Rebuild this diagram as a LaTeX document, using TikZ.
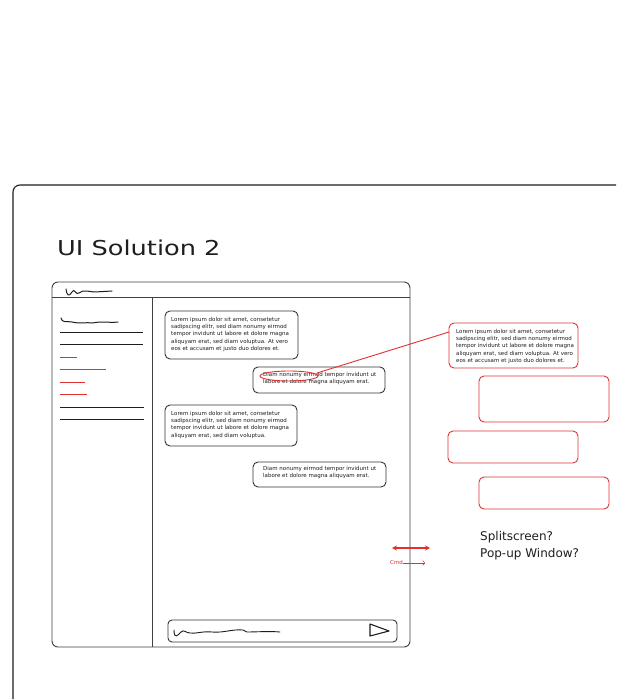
\documentclass[tikz,border=0pt]{standalone}
\usepackage{fontspec}
\setmainfont{DejaVu Sans}
\usetikzlibrary{arrows.meta}
\definecolor{ink}{HTML}{1E1E1E}
\definecolor{redink}{HTML}{E03131}
\tikzset{
  frame/.style={draw=ink, line width=1.1pt, rounded corners=7pt},
  win/.style={draw=ink!85, line width=0.9pt},
  bubble/.style={draw=ink!90, line width=0.9pt, rounded corners=5pt},
  redbox/.style={draw=redink, line width=0.9pt, rounded corners=5pt},
  navline/.style={draw=ink, line width=1pt},
  navred/.style={draw=redink, line width=1pt},
  scrib/.style={draw=ink, line width=1pt, line cap=round, line join=round},
  chat/.style={inner sep=0pt, anchor=north west, align=left, text=ink,
    font=\fontsize{5.5}{7.3}\selectfont},
  note/.style={inner sep=0pt, anchor=base west, text=ink,
    font=\fontsize{12}{17}\selectfont}
}
\begin{document}
\begin{tikzpicture}[x=1pt, y=-1pt]
\useasboundingbox (0,0) rectangle (616,700);
\fill[white] (0,0) rectangle (616,700);

% outer board
\begin{scope}
\clip (0,0) rectangle (616,700);
\draw[frame] (13,699) -- (13,185) -- (630,185);
\end{scope}

% title
\node[inner sep=0pt, anchor=base west, text=ink, font=\fontsize{20.5}{24}\selectfont]
  (title) at (57,255) {\scalebox{1.25}[1]{UI Solution 2}};

% app window
\draw[win, rounded corners=6pt] (52,282) rectangle (410,647);
\draw[win] (52,297) -- (410,297);
\draw[win] (152,297) -- (152,647);

% header logo scribble
\draw[scrib] (66,289) .. controls (67,296) and (69,297) .. (72,292)
  .. controls (74,287) and (76,296) .. (79,293)
  .. controls (83,289) and (90,292) .. (95,292) -- (112,291);

% sidebar
\draw[scrib] (61,318) .. controls (62,323) and (66,321) .. (72,322)
  .. controls (80,324) and (86,322) .. (93,323)
  .. controls (100,321) and (110,323) .. (118,322);
\draw[navline] (60,332) -- (143,332);
\draw[navline] (60,344) -- (143,344);
\draw[navred] (60,357) -- (77,357);
\draw[navred] (60,369) -- (106,369);
\draw[navred] (60,382) -- (85,382);
\draw[navred] (60,394) -- (87,394);
\draw[navline] (60,407) -- (144,407);
\draw[navline] (60,419) -- (144,419);

% chat bubbles
\draw[bubble] (165,311) rectangle (298,359);
\node[chat] (m1) at (171,317) {Lorem ipsum dolor sit amet, consetetur\\sadipscing elitr, sed diam nonumy eirmod\\tempor invidunt ut labore et dolore magna\\aliquyam erat, sed diam voluptua. At vero\\eos et accusam et justo duo dolores et.};

\draw[bubble] (253,367) rectangle (385,393);
\node[chat] (m2) at (263,372) {Diam nonumy eirmod tempor invidunt ut\\labore et dolore magna aliquyam erat.};

\draw[bubble] (165,405) rectangle (297,446);
\node[chat] (m3) at (171,411) {Lorem ipsum dolor sit amet, consetetur\\sadipscing elitr, sed diam nonumy eirmod\\tempor invidunt ut labore et dolore magna\\aliquyam erat, sed diam voluptua.};

\draw[bubble] (253,462) rectangle (386,487);
\node[chat] (m4) at (263,466) {Diam nonumy eirmod tempor invidunt ut\\labore et dolore magna aliquyam erat.};

% highlighted words and callout
\draw[redink, line width=0.9pt] (289,376) ellipse [x radius=29, y radius=5];
\coordinate (hl) at (317,373);

% red sketch boxes
\draw[redbox] (449,323) rectangle (578,368);
\node[chat] (r1) at (456,329) {Lorem ipsum dolor sit amet, consetetur\\sadipscing elitr, sed diam nonumy eirmod\\tempor invidunt ut labore et dolore magna\\aliquyam erat, sed diam voluptua. At vero\\eos et accusam et justo duo dolores et.};
\coordinate (callout) at (449,332);
\draw[redink, line width=0.9pt] (hl) -- (callout);

\draw[redbox] (479,376) rectangle (609,422);
\draw[redbox] (448,431) rectangle (578,463);
\draw[redbox] (479,477) rectangle (609,509);

% resize handle
\coordinate (dl) at (392,548);
\coordinate (dr) at (430,548);
\draw[redink, line width=1.3pt, {Stealth[length=5pt,width=5pt]}-{Stealth[length=5pt,width=5pt]}] (dl) -- (dr);
\node[inner sep=0pt, anchor=base west, text=redink, font=\fontsize{5.5}{7}\selectfont]
  (cmd) at (390,564.5) {Cmd};
\coordinate (ce) at (425,563);
\draw[redink, line width=0.5pt, -{To[length=2.5pt]}] (cmd.east |- 0,563) -- (ce);

% notes
\node[note] (n1) at (480,540) {Splitscreen?};
\node[note] (n2) at (480,557) {Pop-up Window?};

% input bar
\draw[bubble, rounded corners=4pt] (168,620) rectangle (397,642);
\draw[scrib, line width=0.9pt] (174,630) .. controls (174,640) and (178,635) .. (181,632)
  .. controls (184,629) and (186,633) .. (190,633)
  .. controls (196,634) and (202,631) .. (212,632)
  .. controls (224,633) and (232,629) .. (243,630)
  -- (247,632) .. controls (256,632) and (270,631) .. (280,632);
\draw[scrib, line width=1.1pt] (370,624) -- (389,631) -- (370,636) -- cycle;
\end{tikzpicture}
\end{document}
